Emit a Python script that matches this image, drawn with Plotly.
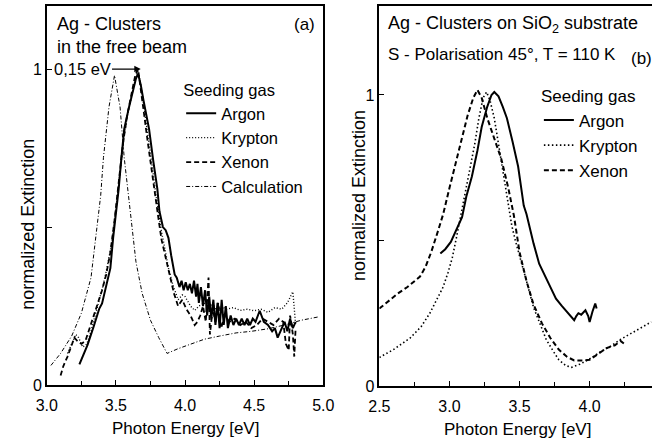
import plotly.graph_objects as go

# ---------------- Panel (a): free beam ----------------
argon_a_E = [3.236, 3.295, 3.34, 3.38, 3.40, 3.435, 3.46, 3.48, 3.505, 3.52, 3.54, 3.56, 3.59, 3.62, 3.645,
             3.66, 3.68, 3.70, 3.74, 3.77, 3.80, 3.815, 3.84, 3.86, 3.88, 3.90, 3.925, 3.94, 3.96, 3.975,
             3.99, 4.005, 4.02, 4.035, 4.05, 4.065, 4.08, 4.09, 4.10, 4.115, 4.13, 4.145, 4.16, 4.175, 4.19,
             4.205, 4.22, 4.235, 4.25, 4.265, 4.28, 4.295, 4.31, 4.33, 4.35, 4.37, 4.39, 4.41, 4.43, 4.45,
             4.47, 4.49, 4.51, 4.54, 4.57, 4.60, 4.63, 4.65, 4.67, 4.69, 4.72, 4.74, 4.76, 4.78, 4.80]
argon_a_V = [0.065, 0.127, 0.186, 0.242, 0.258, 0.32, 0.37, 0.466, 0.56, 0.62, 0.72, 0.81, 0.87, 0.92, 0.97,
             0.985, 0.95, 0.90, 0.81, 0.71, 0.62, 0.55, 0.50, 0.49, 0.466, 0.41, 0.35, 0.34, 0.31, 0.33,
             0.30, 0.325, 0.30, 0.32, 0.29, 0.33, 0.28, 0.32, 0.26, 0.31, 0.25, 0.30, 0.22, 0.28, 0.21,
             0.27, 0.19, 0.26, 0.18, 0.27, 0.19, 0.25, 0.18, 0.22, 0.19, 0.21, 0.19, 0.21, 0.19, 0.21,
             0.19, 0.21, 0.20, 0.235, 0.20, 0.19, 0.17, 0.18, 0.15, 0.17, 0.20, 0.17, 0.21, 0.18, 0.20]

krypton_a_E = [3.15, 3.19, 3.21, 3.23, 3.26, 3.29, 3.32, 3.35, 3.38, 3.41, 3.44, 3.47, 3.50, 3.53, 3.56,
               3.59, 3.62, 3.645, 3.66, 3.68, 3.70, 3.73, 3.76, 3.79, 3.81, 3.83, 3.855, 3.88, 3.91, 3.95,
               3.98, 4.00, 4.04, 4.07, 4.10, 4.14, 4.17, 4.20, 4.23, 4.26, 4.30, 4.35, 4.40, 4.45, 4.50,
               4.55, 4.60, 4.65, 4.70, 4.74, 4.78, 4.80]
krypton_a_V = [0.10, 0.14, 0.16, 0.15, 0.12, 0.13, 0.17, 0.22, 0.27, 0.32, 0.38, 0.45, 0.56, 0.68, 0.79,
               0.87, 0.93, 0.975, 0.995, 0.95, 0.89, 0.80, 0.70, 0.60, 0.54, 0.485, 0.43, 0.37, 0.32, 0.27,
               0.285, 0.28, 0.25, 0.236, 0.25, 0.26, 0.24, 0.26, 0.23, 0.25, 0.24, 0.245, 0.236, 0.24, 0.235,
               0.24, 0.23, 0.245, 0.24, 0.26, 0.295, 0.19]

xenon_a_E = [3.10, 3.12, 3.15, 3.18, 3.20, 3.22, 3.25, 3.28, 3.31, 3.34, 3.37, 3.40, 3.43, 3.46, 3.49,
             3.52, 3.55, 3.58, 3.61, 3.64, 3.66, 3.68, 3.70, 3.73, 3.76, 3.79, 3.81, 3.83, 3.86, 3.89,
             3.92, 3.95, 3.98, 4.01, 4.04, 4.07, 4.09, 4.11, 4.13, 4.15, 4.17, 4.18, 4.20, 4.22, 4.24,
             4.26, 4.29, 4.32, 4.36, 4.40, 4.44, 4.48, 4.52, 4.56, 4.60, 4.64, 4.68, 4.71, 4.73, 4.75,
             4.76, 4.78, 4.79, 4.80]
xenon_a_V = [0.03, 0.06, 0.09, 0.13, 0.15, 0.14, 0.13, 0.14, 0.18, 0.22, 0.26, 0.30, 0.35, 0.42, 0.52,
             0.64, 0.76, 0.85, 0.92, 0.98, 1.0, 0.94, 0.87, 0.77, 0.67, 0.58, 0.52, 0.46, 0.40, 0.34,
             0.29, 0.25, 0.27, 0.24, 0.22, 0.19, 0.20, 0.22, 0.25, 0.20, 0.34, 0.16, 0.24, 0.20, 0.26,
             0.18, 0.22, 0.20, 0.21, 0.19, 0.20, 0.18, 0.19, 0.21, 0.20, 0.19, 0.21, 0.20, 0.13, 0.11,
             0.22, 0.16, 0.09, 0.18]

calc_a_E = [3.03, 3.10, 3.18, 3.25, 3.32, 3.365, 3.39, 3.41, 3.45, 3.49, 3.53, 3.56, 3.60, 3.645, 3.69,
            3.75, 3.81, 3.87, 3.95, 4.05, 4.14, 4.25, 4.37, 4.48, 4.60, 4.72, 4.84, 4.97]
calc_a_V = [0.062, 0.10, 0.155, 0.227, 0.34, 0.50, 0.60, 0.72, 0.88, 0.98, 0.88, 0.72, 0.56, 0.39, 0.29,
            0.205, 0.15, 0.10, 0.115, 0.13, 0.145, 0.155, 0.165, 0.17, 0.178, 0.19, 0.205, 0.216]

# ---------------- Panel (b): on SiO2 substrate ----------------
argon_b_E = [2.935, 2.97, 3.01, 3.06, 3.09, 3.12, 3.16, 3.20, 3.23, 3.27, 3.30, 3.32, 3.35, 3.38, 3.41,
             3.45, 3.49, 3.53, 3.55, 3.60, 3.64, 3.71, 3.76, 3.80, 3.85, 3.89, 3.905, 3.92, 3.94, 3.97,
             3.99, 4.00, 4.02, 4.04, 4.05]
argon_b_V = [0.455, 0.47, 0.495, 0.55, 0.58, 0.65, 0.72, 0.81, 0.89, 0.96, 1.0, 1.01, 0.995, 0.96, 0.92,
             0.84, 0.754, 0.62, 0.59, 0.49, 0.42, 0.35, 0.30, 0.276, 0.25, 0.226, 0.24, 0.25, 0.245, 0.26,
             0.24, 0.22, 0.255, 0.283, 0.266]

krypton_b_E = [2.50, 2.60, 2.72, 2.80, 2.86, 2.91, 2.955, 2.99, 3.02, 3.05, 3.07, 3.11, 3.15, 3.18, 3.21,
               3.24, 3.265, 3.29, 3.32, 3.355, 3.39, 3.445, 3.47, 3.50, 3.55, 3.60, 3.65, 3.69, 3.74, 3.78,
               3.83, 3.87, 3.93, 3.99, 4.07, 4.15, 4.22, 4.29, 4.36, 4.44]
krypton_b_V = [0.098, 0.125, 0.165, 0.205, 0.25, 0.295, 0.34, 0.39, 0.44, 0.51, 0.56, 0.66, 0.76, 0.83, 0.92,
               0.99, 1.01, 0.98, 0.92, 0.82, 0.72, 0.55, 0.50, 0.45, 0.36, 0.27, 0.21, 0.16, 0.12, 0.09,
               0.07, 0.064, 0.075, 0.09, 0.115, 0.137, 0.16, 0.18, 0.20, 0.22]

xenon_b_E = [2.50, 2.56, 2.63, 2.70, 2.79, 2.83, 2.87, 2.92, 2.955, 3.00, 3.05, 3.09, 3.13, 3.17, 3.20,
             3.23, 3.27, 3.32, 3.37, 3.42, 3.46, 3.50, 3.55, 3.60, 3.66, 3.72, 3.78, 3.84, 3.89, 3.95,
             4.00, 4.06, 4.12, 4.18, 4.22, 4.26]
xenon_b_V = [0.266, 0.29, 0.317, 0.34, 0.376, 0.41, 0.46, 0.535, 0.59, 0.68, 0.78, 0.855, 0.93, 0.99, 1.017,
             0.99, 0.92, 0.85, 0.78, 0.68, 0.585, 0.46, 0.36, 0.28, 0.215, 0.165, 0.125, 0.10, 0.088, 0.088,
             0.09, 0.11, 0.13, 0.14, 0.155, 0.14]

# Tick labels (minor ticks every 0.25 eV / 0.5 units are unlabelled)
x_a_ticks = [3.0, 3.5, 4.0, 4.5, 5.0]
x_a_labels = ["3.0", "3.5", "4.0", "4.5", "5.0"]
x_b_ticks = [2.5, 3.0, 3.5, 4.0]
x_b_labels = ["2.5", "3.0", "3.5", "4.0"]
y_ticks = [0, 1]
y_labels = ["0", "1"]

FONT = "Liberation Sans, Arial, sans-serif"
W, H = 663, 443

fig = go.Figure()

def add(x, y, name, dash, width, xa, ya, legend, group):
    fig.add_trace(go.Scatter(x=x, y=y, mode="lines", name=name,
                             line=dict(color="black", dash=dash, width=width),
                             xaxis=xa, yaxis=ya, legend=legend, legendgroup=group))

add(argon_a_E, argon_a_V, "Argon", "solid", 2.0, "x", "y", "legend", "a1")
add(krypton_a_E, krypton_a_V, "Krypton", "1px,2px", 1.4, "x", "y", "legend", "a2")
add(xenon_a_E, xenon_a_V, "Xenon", "5px,3px", 1.8, "x", "y", "legend", "a3")
add(calc_a_E, calc_a_V, "Calculation", "4px,2px,1px,2px", 1.0, "x", "y", "legend", "a4")

add(argon_b_E, argon_b_V, "Argon", "solid", 2.0, "x2", "y2", "legend2", "b1")
add(krypton_b_E, krypton_b_V, "Krypton", "1.5px,2.5px", 1.6, "x2", "y2", "legend2", "b2")
add(xenon_b_E, xenon_b_V, "Xenon", "5px,3px", 2.0, "x2", "y2", "legend2", "b3")

def px_x(p):
    return p / W

def px_y(p):
    return 1 - p / H

axis_common = dict(showgrid=False, zeroline=False, showline=True, linecolor="black", linewidth=1.5,
                   ticks="inside", ticklen=5, tickwidth=1.2, tickcolor="black", tickmode="array",
                   tickfont=dict(family=FONT, size=16, color="black"))
minor_x = dict(dtick=0.25, ticks="inside", ticklen=4, tickwidth=1.2, tickcolor="black", showgrid=False)
minor_y = dict(dtick=0.5, ticks="inside", ticklen=5, tickwidth=1.2, tickcolor="black", showgrid=False)

fig.update_layout(
    width=W, height=H,
    margin=dict(l=0, r=0, t=0, b=0),
    paper_bgcolor="white", plot_bgcolor="white",
    font=dict(family=FONT, color="black"),
    xaxis=dict(domain=[px_x(37), px_x(323)], range=[3.0, 5.0], ticklabelstandoff=5,
               tickvals=x_a_ticks, ticktext=x_a_labels, minor=minor_x, mirror=True, anchor="y", **axis_common),
    yaxis=dict(domain=[px_y(393), px_y(6)], range=[0, 1.2],
               tickvals=y_ticks, ticktext=y_labels, minor=minor_y, mirror=True, anchor="x", **axis_common),
    xaxis2=dict(domain=[px_x(381), 1.0], range=[2.5, 4.445], ticklabelstandoff=5,
                tickvals=x_b_ticks, ticktext=x_b_labels, minor=minor_x, mirror=True, anchor="y2", **axis_common),
    yaxis2=dict(domain=[px_y(394), px_y(6)], range=[0, 1.306],
                tickvals=y_ticks, ticktext=y_labels, minor=minor_y, mirror=False, anchor="x2", **axis_common),
    legend=dict(x=px_x(176), y=px_y(76), xanchor="left", yanchor="top",
                bgcolor="rgba(0,0,0,0)", borderwidth=0, tracegroupgap=0,
                title=dict(text="Seeding gas", font=dict(family=FONT, size=16.5)),
                font=dict(family=FONT, size=16.5, color="black")),
    legend2=dict(x=px_x(546), y=px_y(82), xanchor="left", yanchor="top",
                 bgcolor="rgba(0,0,0,0)", borderwidth=0, tracegroupgap=0,
                 title=dict(text="Seeding gas", font=dict(family=FONT, size=17)),
                 font=dict(family=FONT, size=17, color="black")),
    showlegend=True,
)

def text(x, y, s, size, xanchor="left", angle=0, yanchor="middle"):
    fig.add_annotation(x=px_x(x), y=px_y(y), xref="paper", yref="paper", text=s, showarrow=False,
                       xanchor=xanchor, yanchor=yanchor, textangle=angle,
                       font=dict(family=FONT, size=size, color="black"))

# Panel (a) texts
text(46, 25, "Ag - Clusters", 18)
text(46, 48, "in the free beam", 18)
text(316, 25, "(a)", 17, xanchor="right")
# Panel (b) texts
text(388, 25, "Ag - Clusters on SiO<sub>2</sub> substrate", 18)
text(388, 56, "S - Polarisation 45°, T = 110 K", 17)
text(639, 60, "(b)", 17)
# Axis titles
text(181, 437, "Photon Energy [eV]", 17, xanchor="center")
text(524, 438, "Photon Energy [eV]", 17, xanchor="center")
text(18, 229, "normalized Extinction", 18, xanchor="center", angle=-90)
text(360, 200, "normalized Extinction", 18, xanchor="center", angle=-90)

# Shift annotation: "0,15 eV" with arrow from the calculated to the measured peak
fig.add_annotation(x=3.68, y=1.0, ax=3.255, ay=1.0, xref="x", yref="y", axref="x", ayref="y",
                   text="0,15 eV", showarrow=True, arrowhead=2, arrowsize=1, arrowwidth=1.3,
                   arrowcolor="black", standoff=0, startstandoff=0,
                   font=dict(family=FONT, size=16.5, color="black"))

fig.write_html("out.html")
